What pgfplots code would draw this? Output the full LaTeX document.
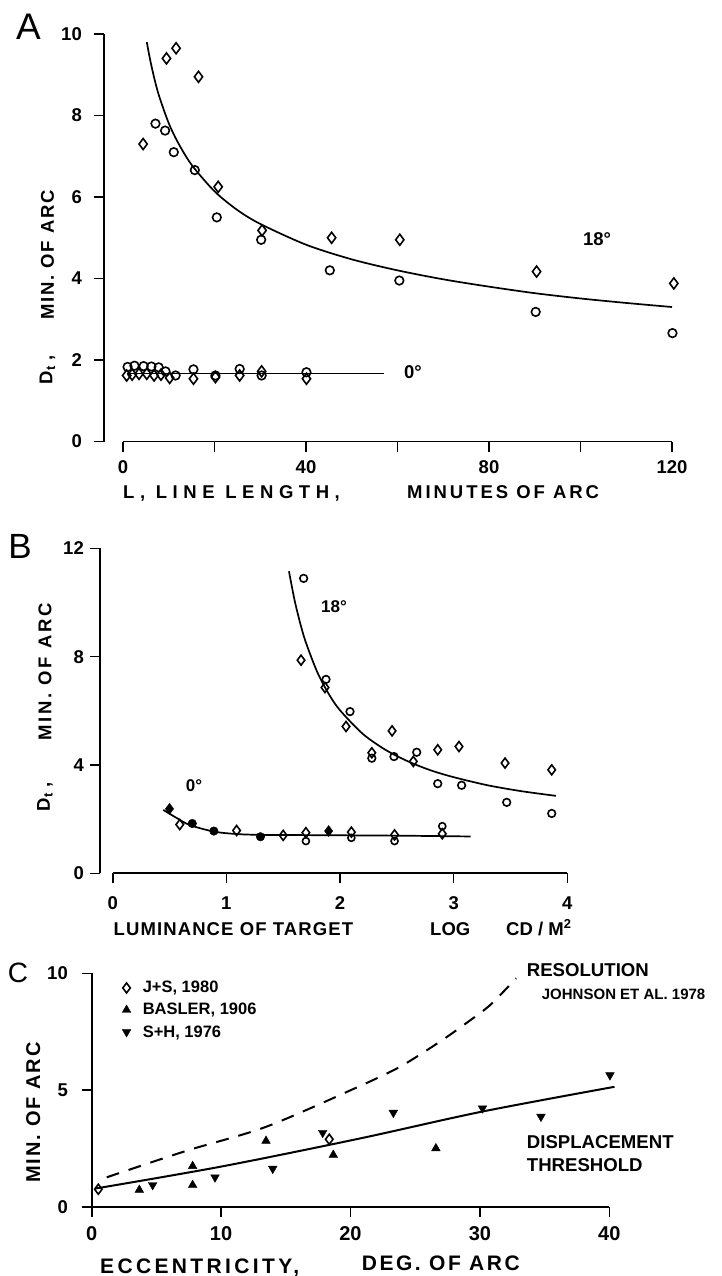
\documentclass[border=0pt]{standalone}
\usepackage{fontspec}
\setmainfont{Liberation Sans}
\usepackage{pgfplots}
\pgfplotsset{compat=1.18}
\newcommand{\fs}[1]{\fontsize{#1}{#1}\selectfont}
\newcommand{\lsp}[1]{\addfontfeature{LetterSpace=#1}}
\pgfplotsset{
  panel/.style={
    scale only axis, axis lines=left, enlargelimits=false, clip=false,
    tick align=outside, major tick length=10pt,
    axis line style={line width=1.8pt,-},
    every tick/.style={line width=1.6pt,black},
    /pgf/number format/assume math mode=true,
    ticklabel style={font=\bfseries\fs{18.5}, inner sep=0pt},
  },
  dmark/.style={only marks, mark=diamond, mark size=5.5pt, mark options={line width=1.6pt}},
  cmark/.style={only marks, mark=o, mark size=4.3pt, mark options={line width=1.6pt}},
  fitline/.style={black, line width=1.7pt, smooth},
}
\begin{document}
\begin{tikzpicture}
\useasboundingbox (0pt,0pt) rectangle (721pt,-1276pt);
% ---------------- Panel A ----------------
\begin{axis}[panel, at={(123pt,-441.5pt)}, anchor=south west,
  width=549pt, height=407.5pt,
  xmin=0, xmax=120, ymin=0, ymax=10,
  xtick={0,20,...,120}, xticklabels={0,,40,,80,,120},
  ytick={0,2,...,10},
  axis y line shift=19pt,
  yticklabel style={anchor=east, xshift=-12pt},
  xticklabel style={anchor=north, yshift=-9pt}]
\addplot[fitline] coordinates {(5.2,9.8) (6,9.33) (7,8.84) (8,8.44) (10,7.81) (12,7.34) (15,6.79) (20,6.14) (25,5.68) (30,5.34) (40,4.83) (50,4.47) (60,4.20) (70,3.98) (80,3.80) (90,3.64) (100,3.51) (110,3.40) (120,3.30)};
\addplot[black, line width=1.7pt] coordinates {(0.8,1.67) (57,1.67)};
\addplot[dmark] coordinates {(4.4,7.3) (9.5,9.4) (11.6,9.65) (16.5,8.95) (20.8,6.25) (30.4,5.18) (45.6,5.0) (60.5,4.95) (90.4,4.17) (120.4,3.88)};
\addplot[cmark] coordinates {(7.1,7.8) (9.2,7.63) (11.1,7.1) (15.7,6.66) (20.5,5.5) (30.2,4.95) (45.2,4.2) (60.4,3.95) (90.2,3.18) (120.1,2.66)};
\addplot[cmark] coordinates {(1.0,1.83) (2.5,1.86) (4.5,1.85) (6.2,1.84) (7.8,1.82) (9.3,1.72) (11.5,1.62) (15.4,1.77) (20.2,1.62) (25.5,1.78) (30.3,1.62) (40.1,1.70)};
\addplot[dmark] coordinates {(0.8,1.62) (2.0,1.64) (3.5,1.66) (5.2,1.66) (6.8,1.62) (8.3,1.64) (10.2,1.56) (15.4,1.54) (20.2,1.58) (25.5,1.62) (30.3,1.72) (40.1,1.54)};
\end{axis}
% ---------------- Panel B ----------------
\begin{axis}[panel, at={(112.7pt,-873.3pt)}, anchor=south west,
  width=454.6pt, height=325pt,
  xmin=0, xmax=4, ymin=0, ymax=12,
  xtick={0,1,2,3,4}, ytick={0,4,8,12},
  axis y line shift=12.7pt,
  yticklabel style={anchor=east, xshift=-6pt},
  xticklabel style={anchor=north, yshift=-13pt}]
\addplot[fitline] coordinates {(1.551,11.15) (1.6,10.09) (1.65,9.23) (1.7,8.52) (1.8,7.43) (1.9,6.63) (2.0,6.02) (2.2,5.15) (2.4,4.56) (2.6,4.13) (2.8,3.80) (3.0,3.55) (3.3,3.25) (3.6,3.03) (3.9,2.86)};
\addplot[fitline] coordinates {(0.445,2.34) (0.56,2.05) (0.68,1.78) (0.89,1.54) (1.09,1.45) (1.3,1.42) (1.7,1.41) (2.5,1.39) (3.15,1.36)};
\addplot[cmark, mark size=3.8pt] coordinates {(1.68,10.89) (1.877,7.16) (2.088,5.97) (2.28,4.25) (2.475,4.31) (2.675,4.47) (2.86,3.31) (3.07,3.25) (3.467,2.62) (3.863,2.21)};
\addplot[dmark, mark size=5pt] coordinates {(1.657,7.87) (1.868,6.86) (2.053,5.42) (2.28,4.45) (2.458,5.26) (2.645,4.13) (2.86,4.56) (3.047,4.68) (3.452,4.07) (3.863,3.82)};
\addplot[dmark, mark size=5pt] coordinates {(0.59,1.80) (1.09,1.58) (1.50,1.40) (1.70,1.50) (2.10,1.52) (2.48,1.42) (2.90,1.46)};
\addplot[only marks, mark=diamond*, mark size=5.5pt] coordinates {(0.50,2.38) (1.90,1.56)};
\addplot[only marks, mark=*, mark size=4.3pt] coordinates {(0.70,1.84) (0.89,1.56) (1.30,1.35)};
\addplot[cmark, mark size=3.5pt] coordinates {(1.70,1.19) (2.10,1.31) (2.48,1.19) (2.90,1.74)};
\end{axis}
% ---------------- Panel C ----------------
\begin{axis}[panel, at={(91.7pt,-1206.7pt)}, anchor=south west,
  width=517.6pt, height=233.3pt,
  xmin=0, xmax=40, ymin=0, ymax=10,
  xtick={0,10,...,40}, ytick={0,5,10},
  yticklabel style={anchor=east, xshift=-13.7pt},
  xticklabel style={anchor=north, yshift=-10pt, font=\bfseries\fs{20}},
  legend style={draw=none, fill=none, at={(0.055,0.975)}, anchor=north west,
    font=\bfseries\fs{16.5}, row sep=5pt, inner sep=0pt},
  legend cell align=left,
  legend image code/.code={\draw[#1] plot coordinates {(6pt,0pt)}; \path (0pt,0pt) (20pt,0pt);}]
\addplot[black, line width=2pt, smooth, dash pattern=on 13pt off 10pt, forget plot] coordinates {(1.16,1.26) (7.34,2.40) (13.5,3.43) (20.6,5.14) (23.6,5.93) (25.4,6.53) (27.3,7.22) (29.1,7.93) (30.8,8.65) (32.8,9.79)};
\addplot[fitline, line width=2pt, forget plot] coordinates {(0.3,0.78) (10,1.72) (20.6,2.91) (30.2,4.08) (40.4,5.14)};
\addplot[only marks, mark=diamond, mark size=5pt, mark options={line width=1.6pt}] coordinates {(0.51,0.75) (18.36,2.89)};
\addlegendentry{J+S, 1980}
\addplot[only marks, mark=triangle*, mark size=5pt] coordinates {(3.68,0.72) (7.8,1.74) (7.8,0.93) (13.47,2.82) (18.67,2.22) (26.6,2.50)};
\addlegendentry{BASLER, 1906}
\addplot[only marks, mark=triangle*, mark size=5pt, mark options={rotate=180}] coordinates {(4.71,0.93) (9.53,1.26) (13.99,1.63) (17.85,3.17) (23.31,4.03) (30.2,4.22) (34.72,3.86) (40.05,5.64)};
\addlegendentry{S+H, 1976}
\end{axis}
% ---------------- Text ----------------
\node[font=\fs{37}] at (28.5pt,-26.5pt) {A};
\node[font=\fs{35}] at (20pt,-546pt) {B};
\node[font=\fs{28}] at (18pt,-973pt) {C};
% A labels
\node[rotate=90, font=\bfseries\fs{18.5}\lsp{10}] at (47.5pt,-255pt) {MIN. OF ARC};
\node[rotate=90, font=\bfseries\fs{18.5}] at (47.5pt,-370pt) {D\textsubscript{t} ,};
\node[anchor=base west, inner sep=0pt, font=\bfseries\fs{18.5}\lsp{30}] at (123pt,-498.5pt) {L, LINE LENGTH,};
\node[anchor=base west, inner sep=0pt, font=\bfseries\fs{18.5}\lsp{16}] at (407pt,-498.5pt) {MINUTES OF ARC};
\node[font=\bfseries\fs{18.5}] at (597pt,-239pt) {18°};
\node[font=\bfseries\fs{18.5}] at (413pt,-372pt) {0°};
% B labels
\node[rotate=90, font=\bfseries\fs{18.5}\lsp{15}] at (45pt,-672pt) {MIN. OF ARC};
\node[rotate=90, font=\bfseries\fs{18.5}] at (45pt,-797pt) {D\textsubscript{t} ,};
\node[anchor=base west, inner sep=0pt, font=\bfseries\fs{18.5}\lsp{6}] at (113.5pt,-935pt) {LUMINANCE OF TARGET};
\node[anchor=base west, inner sep=0pt, font=\bfseries\fs{18.5}] at (430pt,-935pt) {LOG};
\node[anchor=base west, inner sep=0pt, font=\bfseries\fs{18.5}] at (506pt,-935pt) {CD / M\textsuperscript{2}};
\node[font=\bfseries\fs{17}] at (334pt,-607pt) {18°};
\node[font=\bfseries\fs{17}] at (194pt,-786pt) {0°};
% C labels
\node[rotate=90, font=\bfseries\fs{20}\lsp{10}] at (33.3pt,-1112.5pt) {MIN. OF ARC};
\node[anchor=base west, inner sep=0pt, font=\bfseries\fs{21}\lsp{16}] at (100pt,-1273pt) {ECCENTRICITY,};
\node[anchor=base west, inner sep=0pt, font=\bfseries\fs{21}\lsp{12}] at (361.7pt,-1270pt) {DEG. OF ARC};
\node[anchor=base west, inner sep=0pt, font=\bfseries\fs{18.6}] at (526.7pt,-976.7pt) {RESOLUTION};
\node[anchor=base west, inner sep=0pt, font=\bfseries\fs{15}] at (541.7pt,-999pt) {JOHNSON ET AL. 1978};
\node[anchor=base west, inner sep=0pt, font=\bfseries\fs{18.6}] at (526.7pt,-1148.3pt) {DISPLACEMENT};
\node[anchor=base west, inner sep=0pt, font=\bfseries\fs{18.6}] at (526.7pt,-1171.7pt) {THRESHOLD};
\end{tikzpicture}
\end{document}
